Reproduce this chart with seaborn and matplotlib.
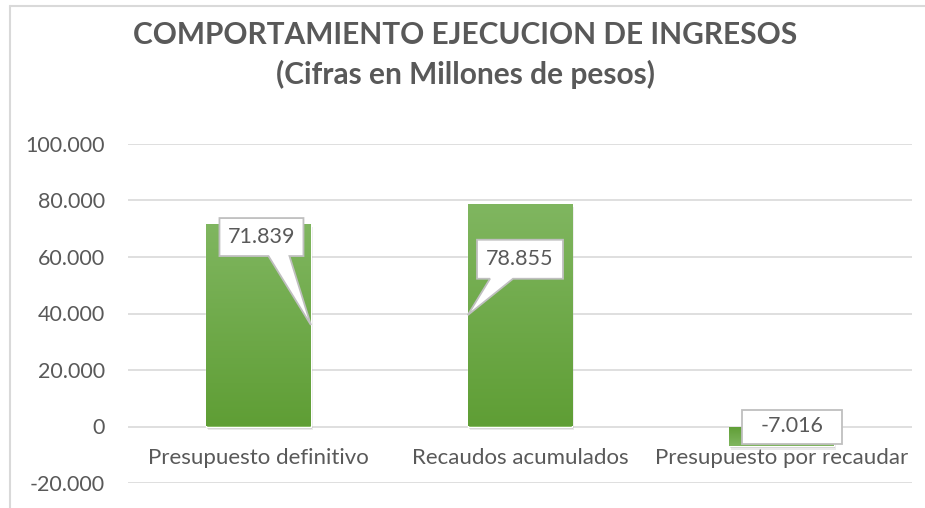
import numpy as np
import pandas as pd
import matplotlib
matplotlib.use("Agg")
import matplotlib.pyplot as plt
import seaborn as sns
from matplotlib.patches import Polygon, Rectangle
from matplotlib.transforms import IdentityTransform
from matplotlib.lines import Line2D
from matplotlib.ticker import FuncFormatter, FixedLocator

categories = ["Presupuesto definitivo", "Recaudos acumulados", "Presupuesto por recaudar"]
values = [71839, 78855, -7016]
yticks = [-20000, 0, 20000, 40000, 60000, 80000, 100000]
title = "COMPORTAMIENTO EJECUCION DE INGRESOS\n(Cifras en Millones de pesos)"

def fmt(v):
    s = f"{abs(int(v)):,}".replace(",", ".")
    return ("-" if v < 0 else "") + s

sns.set_theme(style="white")
plt.rcParams["font.family"] = ["Lato", "DejaVu Sans"]
TXT = "#595959"
GRID = "#d9d9d9"

W, H = 925, 508
fig = plt.figure(figsize=(W / 100, H / 100), dpi=100)
fig.patch.set_facecolor("white")

ax = fig.add_axes([128 / W, 1 - 483 / H, (912 - 128) / W, (483 - 144) / H])
df = pd.DataFrame({"cat": categories, "val": values})
BW = 0.40
sns.barplot(data=df, x="cat", y="val", ax=ax, color="#6aab3f", width=BW,
            saturation=1, zorder=3)
ax.set_xlim(-0.5, 2.5)
ax.set_ylim(-20000, 100000)
ax.yaxis.set_major_locator(FixedLocator(yticks))
ax.yaxis.set_major_formatter(FuncFormatter(lambda v, p: fmt(v)))
ax.grid(axis="y", color=GRID, linewidth=1.2, zorder=0)
ax.set_axisbelow(True)
for s in ax.spines.values():
    s.set_visible(False)
ax.set_xlabel("")
ax.set_ylabel("")
ax.set_xticks([])
ax.tick_params(axis="y", length=0, pad=16.5, labelsize=15.5, labelcolor=TXT)
for t in ax.get_yticklabels():
    t.set_color(TXT)

# gradient fill + soft shadow on bars
grad = np.linspace(0, 1, 256).reshape(-1, 1)
top = np.array(matplotlib.colors.to_rgb("#80b660"))
bot = np.array(matplotlib.colors.to_rgb("#5f9e35"))
for p in ax.patches:
    x0, y0 = p.get_x(), p.get_y()
    w, h = p.get_width(), p.get_height()
    ylo, yhi = min(y0, y0 + h), max(y0, y0 + h)
    img = (top * (1 - grad) + bot * grad).reshape(256, 1, 3)
    if h < 0:
        img = img[::-1]
    for dx, dy, a in [(1.0, -2.0, 0.12), (2.0, -3.5, 0.08), (0.0, -1.0, 0.10)]:
        sh = Rectangle((x0, ylo), w, yhi - ylo, facecolor="#000000", alpha=a,
                       edgecolor="none", zorder=2,
                       transform=ax.transData + matplotlib.transforms.ScaledTranslation(dx / 100, dy / 100, fig.dpi_scale_trans))
        ax.add_patch(sh)
    im = ax.imshow(img, extent=[x0, x0 + w, ylo, yhi], aspect="auto", zorder=3.5,
                   interpolation="bilinear")
    im.set_clip_path(p)
ax.set_xlim(-0.5, 2.5)
ax.set_ylim(-20000, 100000)

# category labels just below zero line
for i, c in enumerate(categories):
    ax.text(i, -11000, c, ha="center", va="center", fontsize=16, color=TXT, zorder=6)

# title
fig.text(465 / W, 1 - 55 / H, title, ha="center", va="center", fontsize=21.5,
         fontweight="bold", color=TXT, linespacing=1.45)

# callouts (display coordinates)
def disp(x, y):
    return ax.transData.transform((x, y))

callouts = [
    # (box offset x px, box offset y px (down), box w, box h, tip side, wedge base l,r from box left)
    (2.8, 13.5, 84, 38, "right", 49, 70),
    (0.0, 55.5, 86, 39, "left", 13, 36),
    (10.5, 0.0, 100, 34, None, 0, 0),
]
for i, (v, (ox, oy, bwid, bh, side, wl, wr)) in enumerate(zip(values, callouts)):
    if v >= 0:
        cx, cy = disp(i, v)
    else:
        cx, cy = disp(i, 0)
    cx += ox
    cy -= oy
    L, R = cx - bwid / 2, cx + bwid / 2
    T, B = cy + bh / 2, cy - bh / 2
    if side is not None:
        tx = i + BW / 2 if side == "right" else i - BW / 2
        tip = disp(tx, v / 2)
        verts = [(L, T), (R, T), (R, B), (L + wr, B), tuple(tip), (L + wl, B), (L, B)]
    else:
        verts = [(L, T), (R, T), (R, B), (L, B)]
    poly = Polygon(verts, closed=True, facecolor="white", edgecolor="#bfbfbf",
                   linewidth=1.3, transform=IdentityTransform(), zorder=7)
    fig.add_artist(poly)
    fig.text(cx / W, cy / H, fmt(v), ha="center", va="center", fontsize=15.5,
             color=TXT, zorder=8)

# chart border (partial, as in crop)
fig.add_artist(Line2D([10 / W, 10 / W], [0, 1 - 6 / H], color="#d9d9d9", lw=1.5,
                      transform=fig.transFigure))
fig.add_artist(Line2D([10 / W, 1], [1 - 6 / H, 1 - 6 / H], color="#d9d9d9", lw=1.5,
                      transform=fig.transFigure))

fig.savefig("out.png", dpi=100, facecolor="white")
